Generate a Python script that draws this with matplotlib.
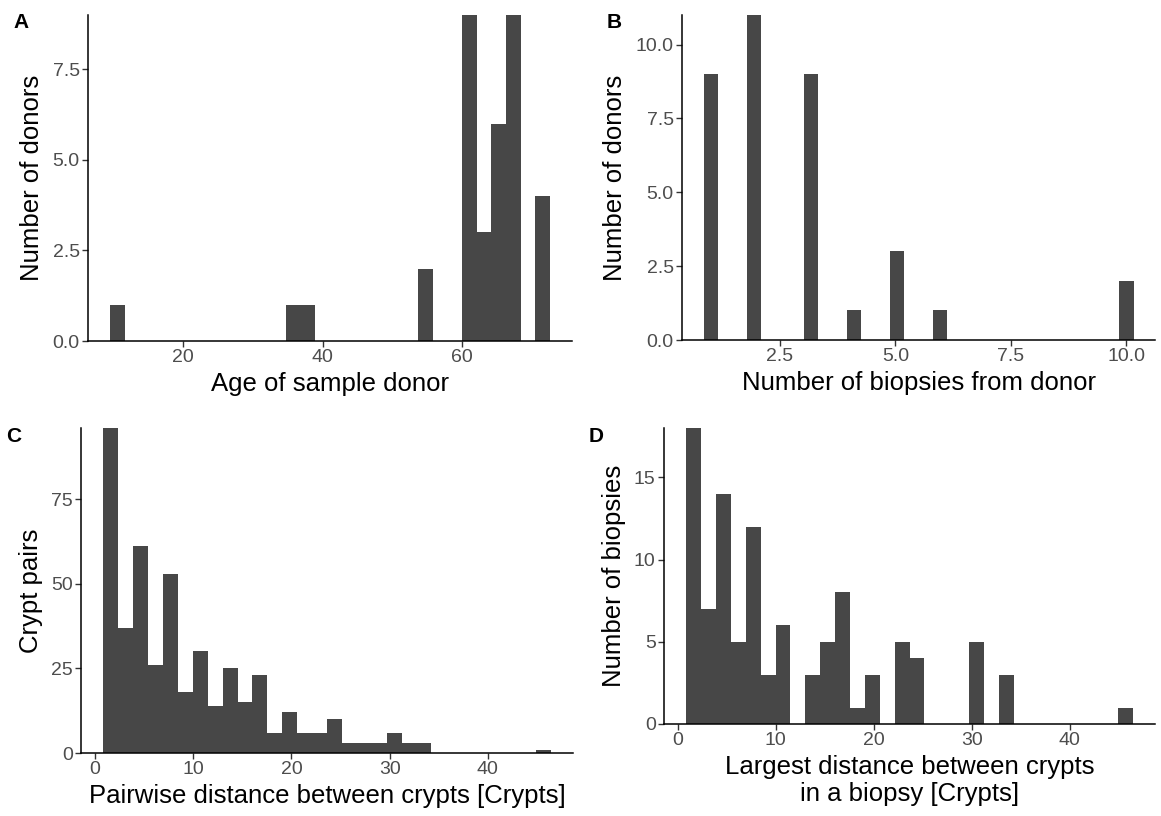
import numpy as np
import matplotlib
matplotlib.use("Agg")
import matplotlib.pyplot as plt
from matplotlib.ticker import FormatStrFormatter

# ---- data (30 bins per histogram) ----
age_range = (9.5, 72.6)
age_counts = [1, 0, 0, 0, 0, 0, 0, 0, 0, 0, 0, 0, 1, 1, 0,
              0, 0, 0, 0, 0, 0, 2, 0, 0, 9, 3, 6, 9, 0, 4]

biopsy_range = (0.845, 10.155)
biopsy_counts = [9, 0, 0, 11, 0, 0, 0, 9, 0, 0, 1, 0, 0, 3, 0,
                 0, 1, 0, 0, 0, 0, 0, 0, 0, 0, 0, 0, 0, 0, 2]

pair_range = (0.85, 46.4)
pair_counts = [96, 37, 61, 26, 53, 18, 30, 14, 25, 15, 23, 6, 12, 6, 6,
               10, 3, 3, 3, 6, 3, 3, 0, 0, 0, 0, 0, 0, 0, 1]

largest_range = (0.88, 46.4)
largest_counts = [18, 7, 14, 5, 12, 3, 6, 0, 3, 5, 8, 1, 3, 0, 5,
                  4, 0, 0, 0, 5, 0, 3, 0, 0, 0, 0, 0, 0, 0, 1]

panels = [
    ("A", age_range, age_counts, "Age of sample donor", "Number of donors",
     [20, 40, 60], [0, 2.5, 5, 7.5], "%.1f", "%g"),
    ("B", biopsy_range, biopsy_counts, "Number of biopsies from donor", "Number of donors",
     [2.5, 5, 7.5, 10], [0, 2.5, 5, 7.5, 10], "%.1f", "%.1f"),
    ("C", pair_range, pair_counts, "Pairwise distance between crypts [Crypts]", "Crypt pairs",
     [0, 10, 20, 30, 40], [0, 25, 50, 75], "%d", "%d"),
    ("D", largest_range, largest_counts,
     "Largest distance between crypts\nin a biopsy [Crypts]", "Number of biopsies",
     [0, 10, 20, 30, 40], [0, 5, 10, 15], "%d", "%d"),
]

# axes boxes in pixels: left, right, top, bottom
W, H = 1161, 816
boxes = [(88, 572, 15, 341), (682, 1155, 15, 340),
         (81, 573, 428, 753), (664, 1155, 428, 724)]

fig = plt.figure(figsize=(W / 100, H / 100), dpi=100)
plt.rcParams['font.family'] = ['Liberation Sans', 'DejaVu Sans']

bar_color = '#474747'
tick_grey = '#4D4D4D'

for (letter, rng, counts, xlab, ylab, xt, yt, yfmt, xfmt), (l, r, t, b) in zip(panels, boxes):
    ax = fig.add_axes([l / W, 1 - b / H, (r - l) / W, (b - t) / H])
    counts = np.array(counts)
    edges = np.linspace(rng[0], rng[1], len(counts) + 1)
    ax.stairs(counts, edges, fill=True, color=bar_color, linewidth=0)
    span = rng[1] - rng[0]
    ax.set_xlim(rng[0] - 0.05 * span, rng[1] + 0.05 * span)
    ax.set_ylim(0, counts.max())
    ax.set_xticks(xt)
    ax.set_yticks(yt)
    ax.yaxis.set_major_formatter(FormatStrFormatter(yfmt))
    ax.xaxis.set_major_formatter(FormatStrFormatter(xfmt))
    for s in ['top', 'right']:
        ax.spines[s].set_visible(False)
    for s in ['left', 'bottom']:
        ax.spines[s].set_linewidth(1.1)
        ax.spines[s].set_color('black')
        ax.spines[s].set_zorder(3)
    ax.tick_params(axis='both', direction='out', length=4, width=1,
                   color='#333333', labelcolor=tick_grey, labelsize=14, pad=2)
    ax.set_xlabel(xlab, fontsize=18.5, labelpad=4, linespacing=1.15)
    ax.set_ylabel(ylab, fontsize=18.5, labelpad=6)
    fig.text((l - 75) / W, 1 - 23 / H if letter in "AB" else 1 - 436 / H, letter,
             fontsize=15, fontweight='bold', ha='left', va='center')

fig.savefig("out.png", dpi=100)
